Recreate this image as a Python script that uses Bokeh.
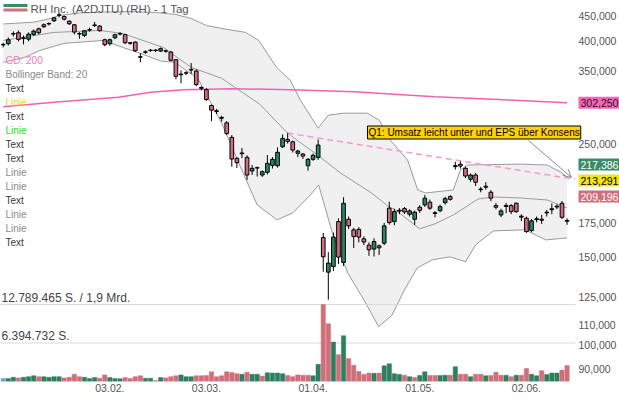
import math
from bokeh.plotting import figure
from bokeh.models import Range1d, LinearScale, FixedTicker, Label, Arrow, OpenHead
from bokeh.embed import file_html
from bokeh.resources import INLINE
from bokeh.core.properties import value

FONT = "Liberation Sans"

# ---------------- data ----------------
title_text = "RH Inc. (A2DJTU) (RH) - 1 Tag"
tick_idx = [21, 40, 61, 82, 103]
tick_labels = ["03.02.", "03.03.", "01.04.", "01.05.", "02.06."]
price_ticks = [90, 100, 110, 125, 150, 175, 250, 350, 400, 450]

open_ = [394.5, 395.7, 413.5, 416.0, 405.0, 404.0, 412.8, 423.6, 431.4, 433.0,
         439.3, 450.5, 448.0, 438.5, 431.4, 414.5, 410.9, 421.0, 430.0, 428.6,
         402.9, 395.7, 406.6, 413.5, 412.3, 397.5, 398.6, 373.0, 380.5, 383.5,
         384.3, 382.7, 383.0, 380.9, 367.9, 344.5, 346.5, 351.0, 349.4, 324.0,
         321.0, 298.6, 291.5, 282.8, 275.9, 258.2, 234.7, 240.5, 235.7, 221.5,
         224.5, 217.5, 220.2, 227.3, 226.9, 247.4, 255.8, 253.0, 240.1, 239.3,
         226.9, 233.6, 235.7, 163.6, 139.7, 143.3, 175.9, 146.0, 177.8, 169.4,
         169.8, 162.6, 158.0, 155.2, 157.5, 159.4, 187.0, 175.9, 184.5, 186.6,
         181.9, 177.8, 187.8, 189.8, 192.1, 183.2, 184.9, 191.8, 197.1, 226.0,
         228.4, 224.2, 213.3, 217.5, 203.5, 205.8, 201.1, 189.2, 181.3, 188.5,
         189.2, 191.2, 180.3, 178.6, 168.9, 177.5, 177.8, 183.0, 185.7, 188.0,
         191.2, 176.2]
high = [397.4, 407.2, 418.5, 420.4, 410.9, 416.6, 422.3, 425.9, 434.0, 436.0,
        447.0, 456.2, 450.0, 440.0, 433.0, 417.2, 421.0, 425.5, 437.0, 431.0,
        405.0, 405.0, 414.0, 417.0, 414.0, 399.0, 400.0, 379.0, 384.0, 386.0,
        386.0, 389.0, 385.0, 383.0, 369.0, 350.5, 349.0, 362.3, 352.0, 326.0,
        323.0, 300.0, 294.0, 285.0, 278.0, 261.0, 236.0, 245.9, 238.0, 227.6,
        226.0, 222.0, 238.2, 236.0, 246.7, 261.7, 263.3, 254.5, 244.0, 240.5,
        235.0, 240.0, 255.8, 167.0, 153.0, 167.3, 178.4, 196.6, 180.0, 171.0,
        171.5, 164.5, 160.0, 163.0, 158.5, 174.9, 192.6, 186.5, 187.0, 188.0,
        186.0, 185.0, 189.5, 198.6, 194.5, 184.5, 190.0, 197.0, 198.5, 231.0,
        231.5, 226.0, 219.0, 219.5, 206.0, 210.5, 203.0, 191.5, 186.5, 191.5,
        190.5, 192.0, 181.8, 180.0, 178.0, 180.0, 181.3, 185.5, 191.0, 190.3,
        193.2, 178.5]
low = [389.1, 392.7, 409.0, 399.9, 394.5, 399.9, 410.0, 412.8, 425.0, 430.0,
       437.0, 445.9, 440.0, 431.0, 412.8, 404.7, 408.0, 418.0, 427.0, 418.0,
       391.0, 392.0, 404.0, 411.0, 395.0, 394.0, 381.0, 363.5, 378.0, 381.5,
       381.0, 381.0, 380.0, 365.0, 336.5, 330.4, 343.0, 345.0, 326.0, 320.0,
       305.0, 278.0, 287.0, 277.5, 261.0, 225.9, 224.6, 234.9, 212.6, 217.5,
       216.0, 215.5, 218.0, 224.0, 225.0, 246.0, 251.0, 241.0, 236.0, 234.0,
       221.8, 232.0, 233.0, 140.0, 123.2, 140.5, 145.0, 143.7, 170.0, 156.0,
       160.0, 158.0, 150.5, 150.0, 151.0, 158.0, 173.5, 173.0, 182.0, 182.0,
       180.0, 173.3, 183.0, 188.0, 185.5, 179.3, 183.5, 190.0, 193.5, 223.0,
       224.0, 214.5, 211.0, 206.9, 201.0, 203.5, 193.0, 186.0, 179.5, 182.8,
       182.0, 183.0, 176.3, 167.0, 167.5, 175.3, 174.0, 180.0, 182.0, 186.1,
       178.0, 173.3]
close = [393.5, 402.9, 414.5, 403.5, 406.5, 413.4, 419.1, 416.0, 427.5, 433.8,
         445.3, 451.5, 442.5, 433.4, 417.2, 413.5, 419.8, 422.0, 431.0, 419.8,
         393.9, 402.9, 412.3, 414.5, 397.5, 396.5, 383.4, 372.0, 381.3, 384.3,
         383.5, 386.9, 382.5, 366.8, 341.1, 343.5, 346.0, 352.0, 328.5, 323.0,
         306.8, 292.3, 290.5, 281.8, 262.9, 233.9, 230.1, 239.7, 217.5, 224.2,
         225.0, 220.8, 229.4, 233.6, 241.2, 257.0, 253.5, 243.7, 242.6, 237.1,
         233.6, 237.9, 249.3, 149.8, 145.6, 163.9, 149.6, 191.2, 172.5, 164.3,
         163.9, 160.3, 154.7, 160.6, 156.1, 172.5, 175.1, 184.1, 185.3, 183.8,
         184.7, 183.6, 185.2, 195.7, 187.0, 182.5, 188.3, 195.3, 194.7, 227.0,
         226.6, 216.5, 217.5, 210.4, 204.0, 206.6, 195.7, 187.8, 184.7, 189.3,
         184.1, 184.1, 179.5, 168.1, 176.5, 178.2, 177.0, 183.6, 186.5, 188.7,
         179.4, 176.8]
volume_mio = [0.5, 0.5, 0.7, 0.6, 0.7, 0.8, 0.95, 0.8, 0.8, 0.7,
              0.8, 0.8, 0.6, 0.7, 1.2, 0.8, 0.7, 0.5, 0.65, 0.55,
              1.1, 0.65, 0.5, 0.45, 0.65, 0.5, 0.8, 0.95, 0.55, 0.55,
              0.15, 0.65, 0.6, 0.8, 0.95, 1.1, 0.8, 0.8, 0.95, 0.95,
              1.0, 1.6, 0.8, 0.95, 1.6, 1.5, 1.3, 1.2, 1.55, 1.2,
              1.2, 0.9, 1.45, 1.4, 1.4, 1.3, 1.0, 0.8, 1.1, 1.05,
              1.05, 0.95, 2.85, 12.789465, 9.6, 6.55, 4.45, 7.6, 3.8, 2.7,
              1.65, 1.15, 1.4, 1.35, 1.4, 2.6, 2.95, 1.3, 1.15, 1.05,
              0.8, 0.65, 1.0, 1.6, 1.0, 1.0, 1.0, 1.05, 1.05, 2.45,
              1.2, 1.2, 0.8, 1.2, 1.2, 0.95, 1.0, 1.55, 1.05, 1.05,
              0.8, 1.05, 1.05, 2.15, 1.2, 0.95, 1.8, 1.15, 1.4, 1.4,
              1.9, 2.65]

bb_upper_x = [0, 6, 9.4, 11, 15, 20, 25, 30, 34, 37, 40, 43, 47.7, 50.3, 53.8, 56.5,
              58.5, 62, 64, 67, 71.7, 74, 76.2, 79.6, 81.6, 83.1, 88.6, 90, 91.4,
              101.8, 107.1, 109.7, 111]
bb_upper = [432.9, 436.5, 443.9, 450.0, 455.2, 457.2, 458.3, 456.2, 452.0, 443.9, 430.0,
            424.2, 416.6, 401.7, 355.3, 335.0, 305.9, 269.3, 285.7, 288.3, 288.3, 279.3,
            255.0, 232.9, 203.2, 200.4, 203.2, 222.5, 227.6, 228.6, 227.6, 220.5, 215.5]
bb_mid_x = [0, 10, 19, 23.5, 31.5, 37, 43, 50.5, 55.4, 57, 61.9, 66.4, 72.5, 75.7,
            77.2, 82, 85, 88.6, 93.5, 96.5, 101.8, 107.1, 111]
bb_mid = [401.7, 416.6, 420.4, 414.7, 389.1, 355.3, 338.0, 300.4, 266.9, 258.5, 238.2,
          219.5, 200.4, 188.9, 185.5, 170.2, 174.1, 181.3, 195.0, 196.8, 195.9, 194.1, 187.2]
bb_lower_x = [0, 4.2, 7.3, 11.9, 19.7, 23.5, 27, 31, 33.7, 38.3, 43, 46.8, 50, 53.9,
              57, 60.1, 62.1, 64.8, 67.8, 71, 73.9, 76.5, 79, 81.5, 84.5, 88, 91, 93,
              96.5, 102.8, 106.8, 111]
bb_lower = [363.5, 371.8, 383.9, 396.2, 401.7, 389.1, 378.7, 365.6, 363.5, 338.0, 275.5,
            224.5, 189.8, 177.3, 183.0, 196.8, 207.8, 167.1, 139.3, 123.2, 109.0, 114.7,
            128.9, 142.4, 147.8, 149.8, 146.5, 158.2, 168.6, 169.4, 161.8, 163.3]

gd200_x = [0, 10, 22.7, 29, 35.5, 45, 56.6, 69, 85, 100.5, 111]
gd200 = [297.0, 303.1, 310.1, 317.2, 320.8, 322.3, 320.8, 317.9, 310.8, 305.9, 302.25]

trend_x = [56, 112.6]
trend_y = [263.3, 213.291]

legend_items = [("GD: 200", "#f57ab8"), ("Bollinger Band: 20", "#8a8a8a"),
                ("Text", "#3a3a3a"), ("Linie", "#f2cf1a"), ("Text", "#3a3a3a"),
                ("Linie", "#1fdc1f"), ("Text", "#3a3a3a"), ("Text", "#3a3a3a"),
                ("Linie", "#8a8a8a"), ("Linie", "#8a8a8a"), ("Text", "#3a3a3a"),
                ("Linie", "#8a8a8a"), ("Linie", "#8a8a8a"), ("Text", "#3a3a3a")]

note_text = "Q1: Umsatz leicht unter und EPS über Konsens"
vol_text_max = "12.789.465 S. / 1,9 Mrd."
vol_text_half = "6.394.732 S."
gd_last_text = "302,250"
quote_boxes = [("217,386", "#3b8b67", "white"),
               ("213,291", "#f3e31c", "black"),
               ("209,196", "#cf6f7d", "white")]

# ---------------- layout helpers (page pixels -> data) ----------------
W, H = 619, 399
FRAME_L, FRAME_T, FRAME_W, FRAME_H = 0, 0, 619, 381
PX_PER_IDX = 5.08
X0 = -2.7 / PX_PER_IDX
X1 = X0 + FRAME_W / PX_PER_IDX
Y1 = 450.0 * math.exp(15 / 219.4)
Y0 = 450.0 * math.exp(-(381 - 15) / 219.4)
VOL_TOP = max(volume_mio) * 1e6 * FRAME_H / 77.0


def px(page_x):
    return X0 + (page_x - FRAME_L) / FRAME_W * (X1 - X0)


def py(page_y):
    return math.exp(math.log(Y1) - (page_y - FRAME_T) / FRAME_H * (math.log(Y1) - math.log(Y0)))


GREEN = "#2f8462"
RED = "#cf6f7b"
VGREEN = "#2e7f5e"
VRED = "#d06e7a"

p = figure(width=W, height=H, x_range=Range1d(X0, X1), y_range=Range1d(Y0, Y1),
           y_axis_type="log", y_axis_location="right", output_backend="svg",
           toolbar_location=None, tools="", min_border_left=0, min_border_top=0,
           min_border_right=0, min_border_bottom=H - FRAME_H, outline_line_color=None,
           background_fill_color="white", border_fill_color="white")
p.grid.visible = False

p.extra_y_ranges = {"vol": Range1d(0, VOL_TOP)}
p.extra_y_scales = {"vol": LinearScale()}

# Bollinger band
band_xs = bb_upper_x + bb_lower_x[::-1]
band_ys = bb_upper + bb_lower[::-1]
p.patch(band_xs, band_ys, fill_color="#f0f0f0", line_color=None)
for bx, by in ((bb_upper_x, bb_upper), (bb_mid_x, bb_mid), (bb_lower_x, bb_lower)):
    p.line(bx, by, line_color="#9a9a9a", line_width=1)

# GD 200
p.line(gd200_x, gd200, line_color="#f461b0", line_width=1.5)

# volume gridlines (max and half of max)
vmax = max(volume_mio) * 1e6
p.segment(x0=[X0, X0], y0=[vmax, vmax / 2], x1=[px(575), px(575)], y1=[vmax, vmax / 2],
          line_color="#dadada", line_width=1, y_range_name="vol")

# volume bars
idx = list(range(len(close)))
vcolors = []
for i in idx:
    if i == 0:
        vcolors.append("#6b9be0")
    else:
        vcolors.append(VGREEN if close[i] >= close[i - 1] else VRED)
p.vbar(x=idx, top=[v * 1e6 for v in volume_mio], bottom=0, width=0.85,
       fill_color=vcolors, line_color=vcolors, line_width=0.5, y_range_name="vol")

# trendline
p.line(trend_x, trend_y, line_color="#f79ac8", line_width=1.5, line_dash="6 4")

# candles
p.segment(idx, high, idx, low, line_color="black", line_width=1)
ccolors = [GREEN if c >= o else RED for o, c in zip(open_, close)]
p.vbar(x=idx, top=[max(o, c) for o, c in zip(open_, close)],
       bottom=[min(o, c) for o, c in zip(open_, close)], width=0.72,
       fill_color=ccolors, line_color="black", line_width=1)

# title row
p.line([px(3), px(27)], [py(5), py(5)], line_color="#3b8b67", line_width=3)
p.line([px(3), px(27)], [py(9.5), py(9.5)], line_color="#d0707e", line_width=3)
p.text(x=[px(30)], y=[py(8)], text=[title_text], text_color="#555555",
       text_font=value(FONT), text_font_size="11.5px", text_baseline="middle")

# legend texts
p.text(x=[px(5)] * len(legend_items), y=[py(60 + 14 * k) for k in range(len(legend_items))],
       text=[t for t, _ in legend_items], text_color=[c for _, c in legend_items],
       text_font=value(FONT), text_font_size="10px", text_baseline="middle")

# volume texts
p.text(x=[px(1), px(1)], y=[py(297), py(335.5)], text=[vol_text_max, vol_text_half],
       text_color="#444444", text_font=value(FONT), text_font_size="12px",
       text_baseline="middle")

# annotation + arrow
p.add_layout(Label(x=px(367), y=py(132), text=note_text, text_font=FONT,
                   text_font_size="10px", text_color="black", text_baseline="middle",
                   text_align="left", background_fill_color="#ffd200",
                   border_line_color="black", border_line_width=1, padding=1))
p.add_layout(Arrow(end=OpenHead(size=8, line_color="#8c8c8c", line_width=1),
                   x_start=px(528), y_start=py(140), x_end=px(571), y_end=py(177),
                   line_color="#8c8c8c", line_width=1))

# right value boxes
p.add_layout(Label(x=px(578), y=gd200[-1], text=gd_last_text, text_font=FONT,
                   text_font_size="10.5px", text_color="#1a1a1a", text_baseline="middle",
                   text_align="left", background_fill_color="#fb64b6", padding=2))
for k, (txt, bg, fg) in enumerate(quote_boxes):
    p.add_layout(Label(x=px(578), y=py(164 + 16 * k), text=txt, text_font=FONT,
                       text_font_size="10.5px", text_color=fg, text_baseline="middle",
                       text_align="left", background_fill_color=bg, padding=2))

# axes
ya = p.yaxis[0]
ya.ticker = FixedTicker(ticks=price_ticks)
ya.major_label_overrides = {t: f"{t:.3f}".replace(".", ",") for t in price_ticks}
ya.axis_line_color = None
ya.major_tick_line_color = None
ya.minor_tick_line_color = None
ya.major_tick_out = 0
ya.major_tick_in = 0
ya.minor_tick_out = 0
ya.minor_tick_in = 0
ya.major_label_standoff = -41
ya.major_label_text_font = FONT
ya.major_label_text_font_size = "10.5px"
ya.major_label_text_color = "#555555"

xa = p.xaxis[0]
xa.ticker = FixedTicker(ticks=tick_idx)
xa.major_label_overrides = {t: l for t, l in zip(tick_idx, tick_labels)}
xa.axis_line_color = None
xa.major_tick_line_color = None
xa.minor_tick_line_color = None
xa.major_tick_out = 0
xa.major_tick_in = 0
xa.minor_tick_out = 0
xa.minor_tick_in = 0
xa.major_label_standoff = 2
xa.major_label_text_font = FONT
xa.major_label_text_font_size = "10.5px"
xa.major_label_text_color = "#555555"

open("out.html", "w").write(file_html(p, INLINE))
